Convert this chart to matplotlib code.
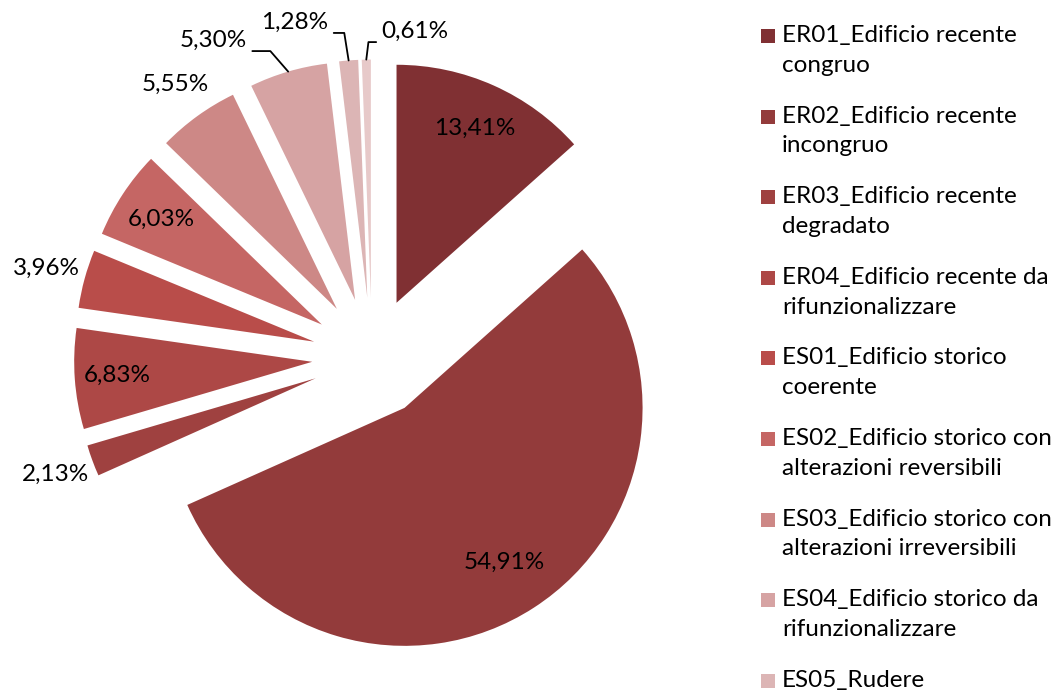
import numpy as np
import matplotlib
matplotlib.use("Agg")
import matplotlib.pyplot as plt
from matplotlib.patches import Rectangle

plt.rcParams['font.family'] = ['Lato', 'DejaVu Sans']

# share of each building class (%), clockwise from 12 o'clock
values = [13.41, 54.91, 2.13, 6.83, 3.96, 6.03, 5.55, 5.30, 1.28, 0.61]
pct_labels = ["13,41%", "54,91%", "2,13%", "6,83%", "3,96%", "6,03%",
              "5,55%", "5,30%", "1,28%", "0,61%"]
categories = [
    "ER01_Edificio recente\ncongruo",
    "ER02_Edificio recente\nincongruo",
    "ER03_Edificio recente\ndegradato",
    "ER04_Edificio recente da\nrifunzionalizzare",
    "ES01_Edificio storico\ncoerente",
    "ES02_Edificio storico con\nalterazioni reversibili",
    "ES03_Edificio storico con\nalterazioni irreversibili",
    "ES04_Edificio storico da\nrifunzionalizzare",
    "ES05_Rudere",
]
colors = ["#803033", "#933b3b", "#9f4140", "#ad4846", "#b94d4a", "#c56664",
          "#cd8886", "#d6a3a3", "#dcb5b5", "#e7c9c9"]

EXPLODE = 0.252
FS = 17.5
# radial distance of the in-place labels (None -> label with a leader line)
label_dist = [1.055, 1.025, 1.417, 1.072, 1.419, 1.061, 1.414, None, None, None]
# leader-line labels: text offset (px), slope of the leader, anchor on the text
leader = {7: ((-75, 31), 131, (1, 0)),
          8: ((-54, 38), 99, (1, 0)),
          9: ((49, 28), 83, (0, 0))}

fig = plt.figure(figsize=(10.62, 6.93), dpi=100)
ax = fig.add_axes([0, 0, 744 / 1062, 671 / 693])

wedges, _ = ax.pie(values, colors=colors, startangle=90, counterclock=False,
                   explode=[EXPLODE] * len(values), radius=1,
                   wedgeprops=dict(linewidth=0))
ax.set_xlim(-1.563, 1.563)
ax.set_ylim(-1.4097, 1.4097)
ax.set_aspect('equal')
ax.axis('off')

total = sum(values)
cum = np.cumsum([0] + values[:-1])
for i, (v, lab) in enumerate(zip(values, pct_labels)):
    theta = np.deg2rad(90 - 360 * (cum[i] + v / 2) / total)
    if label_dist[i] is not None:
        d = label_dist[i]
        ax.text(d * np.cos(theta), d * np.sin(theta), lab, ha='center',
                va='center', fontsize=FS, color='black')
    else:
        off, slope, rel = leader[i]
        edge = (1 + EXPLODE) * np.cos(theta), (1 + EXPLODE) * np.sin(theta)
        ax.annotate(lab, xy=edge, xytext=off, textcoords='offset pixels',
                    ha='center', va='center', fontsize=FS,
                    arrowprops=dict(arrowstyle='-', color='black', lw=1.3,
                                    shrinkA=2, shrinkB=0, relpos=rel,
                                    connectionstyle=f"angle,angleA=0,angleB={slope},rad=0"))

# legend: colour squares with two-line captions
for i, (name, col) in enumerate(zip(categories, colors)):
    y = 693 - (36 + i * 80.6)
    fig.patches.append(Rectangle((761 / 1062, (y - 7) / 693), 14 / 1062, 14 / 693,
                                 transform=fig.transFigure, color=col, lw=0))
    fig.text(782 / 1062, (y + 11) / 693, name, ha='left', va='top',
             fontsize=FS, linespacing=1.52, color='black')

fig.savefig("out.png", dpi=100)
